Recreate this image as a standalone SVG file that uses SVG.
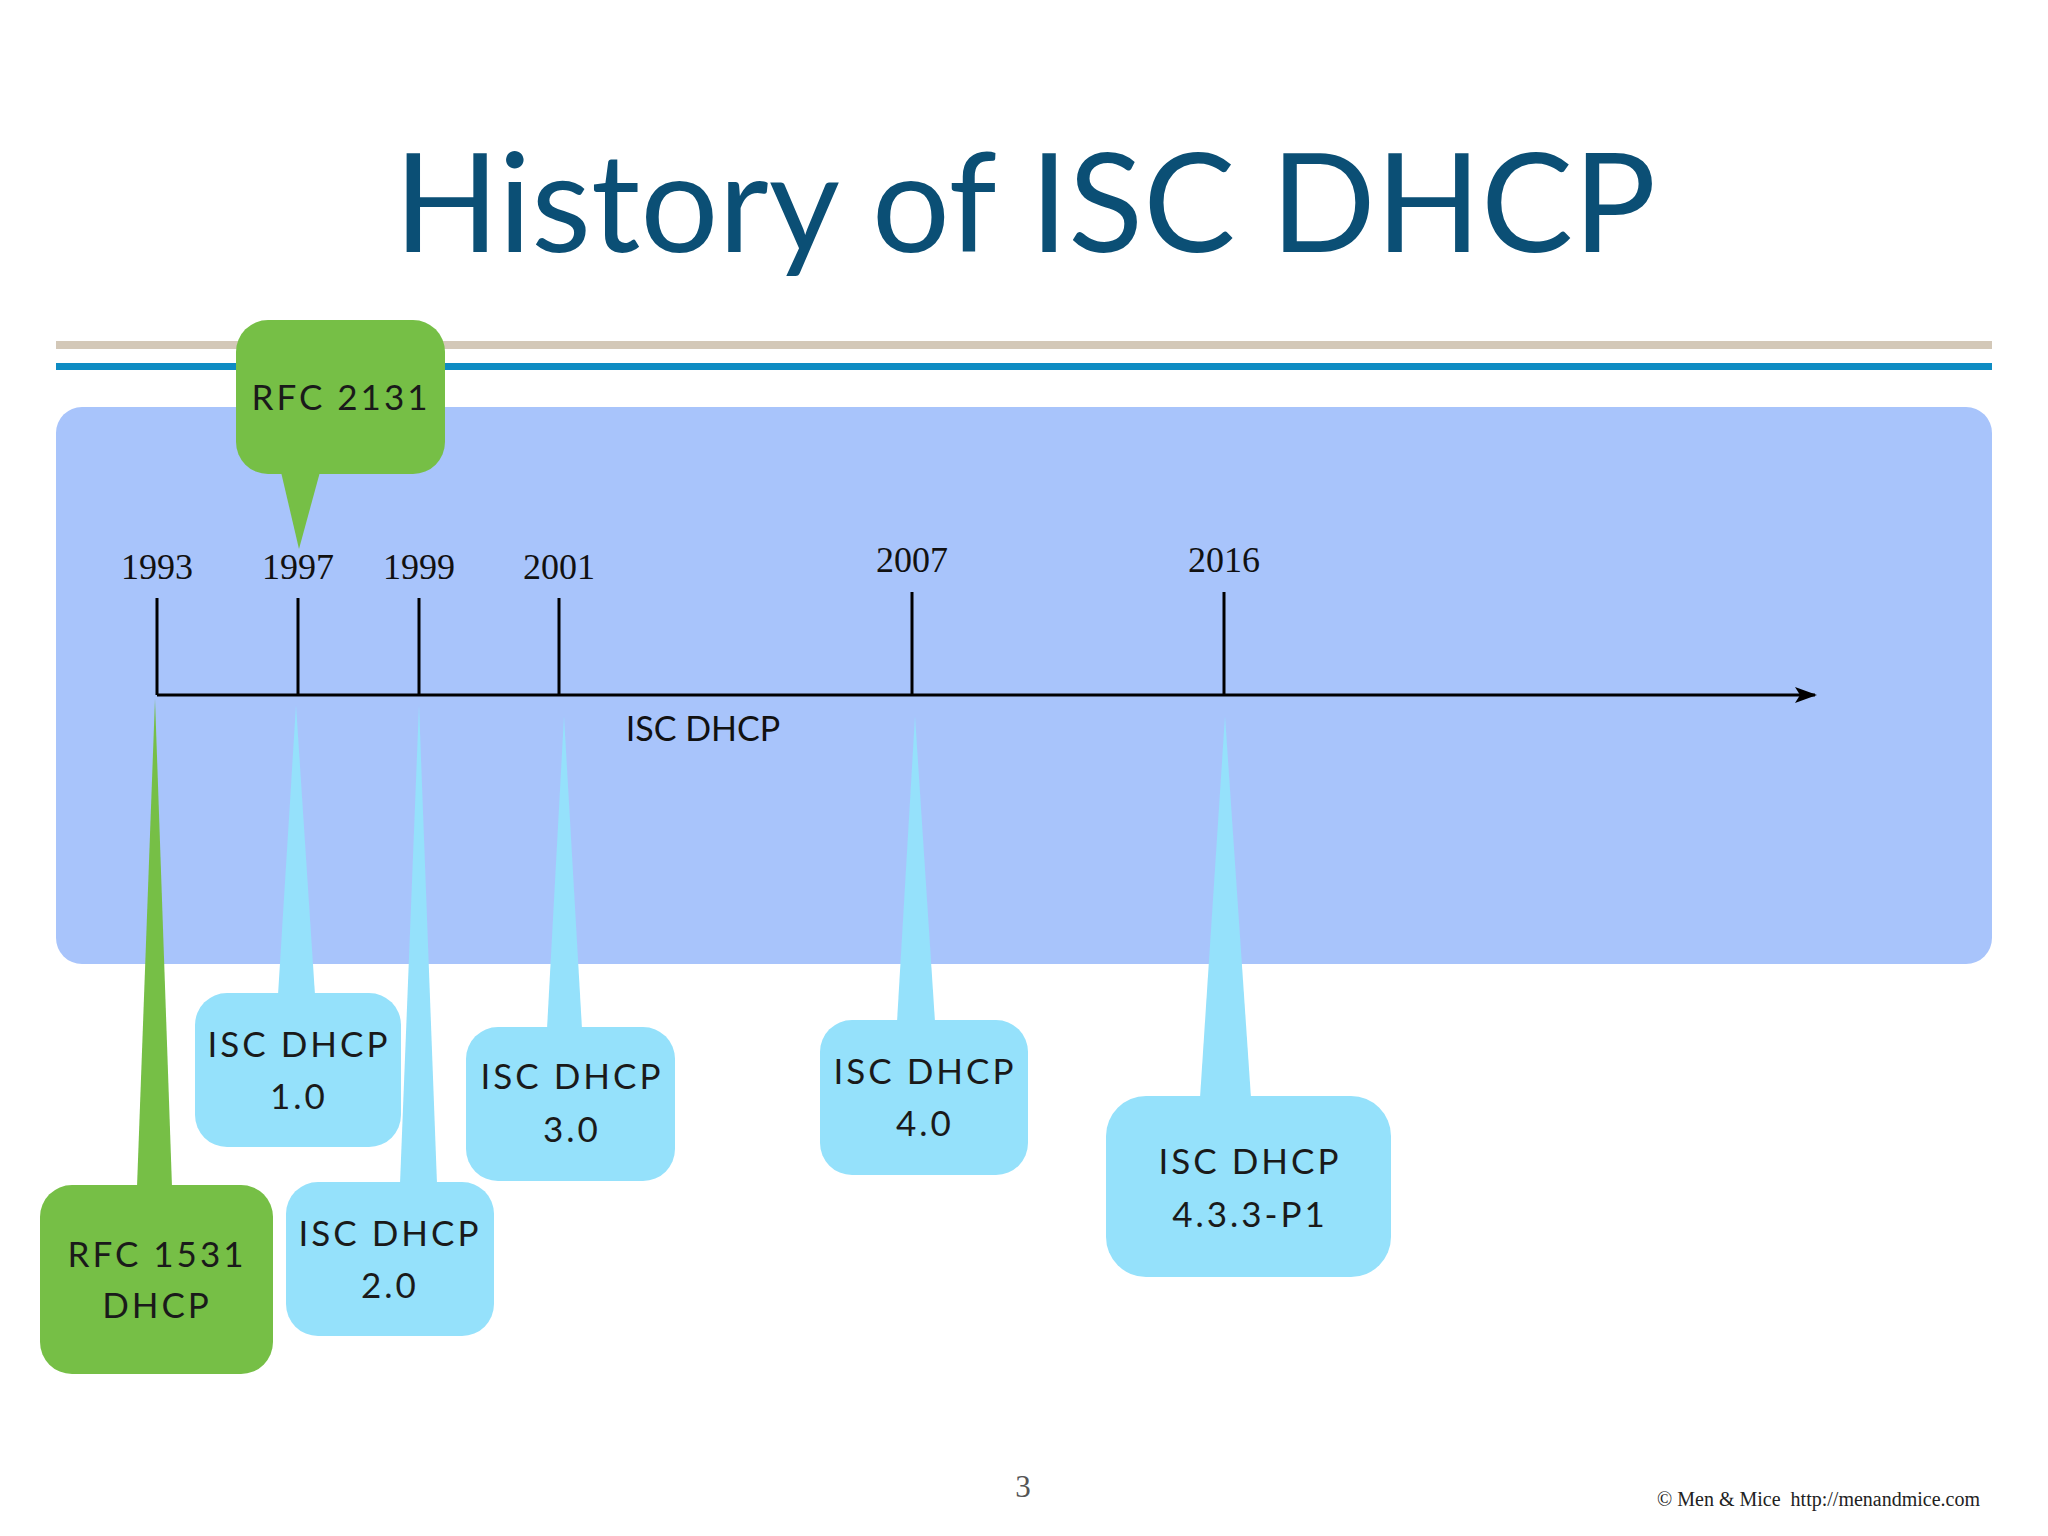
<svg xmlns="http://www.w3.org/2000/svg" width="2048" height="1536" viewBox="0 0 2048 1536">
<defs>
<style>
.yr{font-family:"Liberation Serif",serif;font-size:36px;fill:#111;text-anchor:middle}
.bt{font-family:"Lato","Liberation Sans",sans-serif;font-size:35px;fill:#1a1a1a;text-anchor:middle;letter-spacing:3px}
.g{fill:#76bf46}
.b{fill:#95e1fb}
.tick{stroke:#000;stroke-width:3}
</style>
<marker id="ah" markerWidth="22" markerHeight="16" refX="20" refY="8" orient="auto" markerUnits="userSpaceOnUse"><path d="M0,0 L22,8 L0,16 L5,8 z" fill="#000"/></marker>
</defs>
<rect width="2048" height="1536" fill="#fff"/>
<text x="1025" y="252" font-family="Lato,'Liberation Sans',sans-serif" font-size="138" fill="#0b4f75" text-anchor="middle">History of ISC DHCP</text>
<rect x="56" y="341" width="1936" height="8" fill="#d3c8b8"/>
<rect x="56" y="363" width="1936" height="7" fill="#0e8cc3"/>
<rect x="56" y="407" width="1936" height="557" rx="26" fill="#a8c4fb"/>
<g id="connectors">
<line x1="157" y1="695" x2="1815" y2="695" stroke="#000" stroke-width="3" marker-end="url(#ah)"/>
<line class="tick" x1="157" y1="598" x2="157" y2="695"/>
<line class="tick" x1="298" y1="598" x2="298" y2="695"/>
<line class="tick" x1="419" y1="598" x2="419" y2="695"/>
<line class="tick" x1="559" y1="598" x2="559" y2="695"/>
<line class="tick" x1="912" y1="592" x2="912" y2="695"/>
<line class="tick" x1="1224" y1="592" x2="1224" y2="695"/>
</g>
<g id="years">
<text class="yr" x="157" y="579">1993</text>
<text class="yr" x="298" y="579">1997</text>
<text class="yr" x="419" y="579">1999</text>
<text class="yr" x="559" y="579">2001</text>
<text class="yr" x="912" y="572">2007</text>
<text class="yr" x="1224" y="572">2016</text>
<text x="703" y="741" font-family="Lato,'Liberation Sans',sans-serif" font-size="34" fill="#111" text-anchor="middle">ISC DHCP</text>
</g>
<g id="rfc2131">
<rect class="g" x="236" y="320" width="209" height="154" rx="32"/>
<polygon class="g" points="281,472 320,472 299,549"/>
<text class="bt" x="341" y="410">RFC 2131</text>
</g>
<g id="rfc1531">
<rect class="g" x="40" y="1185" width="233" height="189" rx="32"/>
<polygon class="g" points="137,1187 172,1187 155,699"/>
<text class="bt" x="157" y="1267">RFC 1531</text>
<text class="bt" x="157" y="1318">DHCP</text>
</g>
<g id="isc10">
<rect class="b" x="195" y="993" width="206" height="154" rx="32"/>
<polygon class="b" points="278,995 315,995 296,705"/>
<text class="bt" x="299" y="1057">ISC DHCP</text>
<text class="bt" x="299" y="1109">1.0</text>
</g>
<g id="isc20">
<rect class="b" x="286" y="1182" width="208" height="154" rx="32"/>
<polygon class="b" points="400,1184 437,1184 419,705"/>
<text class="bt" x="390" y="1246">ISC DHCP</text>
<text class="bt" x="390" y="1298">2.0</text>
</g>
<g id="isc30">
<rect class="b" x="466" y="1027" width="209" height="154" rx="32"/>
<polygon class="b" points="547,1029 582,1029 564,716"/>
<text class="bt" x="572" y="1089">ISC DHCP</text>
<text class="bt" x="572" y="1142">3.0</text>
</g>
<g id="isc40">
<rect class="b" x="820" y="1020" width="208" height="155" rx="32"/>
<polygon class="b" points="897,1022 935,1022 915,716"/>
<text class="bt" x="925" y="1084">ISC DHCP</text>
<text class="bt" x="925" y="1136">4.0</text>
</g>
<g id="isc433">
<rect class="b" x="1106" y="1096" width="285" height="181" rx="40"/>
<polygon class="b" points="1200,1098 1251,1098 1225,716"/>
<text class="bt" x="1250" y="1174">ISC DHCP</text>
<text class="bt" x="1250" y="1227">4.3.3-P1</text>
</g>
<text x="1023" y="1497" font-family="'Liberation Serif',serif" font-size="31" fill="#555" text-anchor="middle">3</text>
<text x="1980" y="1506" font-family="'Liberation Serif',serif" font-size="20" fill="#222" text-anchor="end" xml:space="preserve">© Men &amp; Mice  http://menandmice.com</text>
</svg>
